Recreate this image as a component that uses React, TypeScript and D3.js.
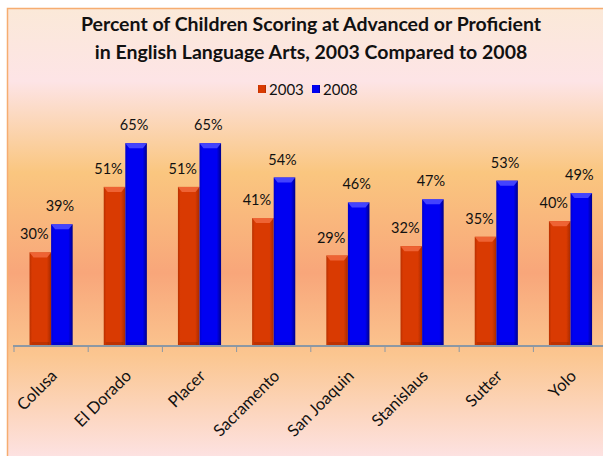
import { useEffect, useRef } from "react";
import * as d3 from "d3";

const counties = ["Colusa", "El Dorado", "Placer", "Sacramento", "San Joaquin", "Stanislaus", "Sutter", "Yolo"];
const years = ["2003", "2008"];
const values2003 = [30, 51, 51, 41, 29, 32, 35, 40];
const values2008 = [39, 65, 65, 54, 46, 47, 53, 49];
const titleLines = [
  "Percent of Children Scoring at Advanced or Proficient",
  "in English Language Arts, 2003 Compared to 2008",
];

const W = 603, H = 456;
const FONT = "Lato, 'Open Sans', sans-serif";

function App() {
  const ref = useRef<SVGSVGElement>(null);

  useEffect(() => {
    const svg = d3.select(ref.current);
    svg.selectAll("*").remove();

    const defs = svg.append("defs");
    // background gradient
    const bg = defs.append("linearGradient").attr("id", "bg")
      .attr("x1", 0).attr("y1", 0).attr("x2", 0).attr("y2", 1);
    [[0, "#fbe9d8"], [0.16, "#fde4e6"], [0.36, "#fac67f"], [0.58, "#f8a67a"], [0.76, "#fbc690"], [1, "#fde4e8"]]
      .forEach(([o, c]) => bg.append("stop").attr("offset", o as number).attr("stop-color", c as string));

    const barGrad = (id: string, stops: string[]) => {
      const g = defs.append("linearGradient").attr("id", id)
        .attr("x1", 0).attr("y1", 0).attr("x2", 1).attr("y2", 0);
      g.append("stop").attr("offset", 0).attr("stop-color", stops[0]);
      g.append("stop").attr("offset", 0.12).attr("stop-color", stops[1]);
      g.append("stop").attr("offset", 0.8).attr("stop-color", stops[1]);
      g.append("stop").attr("offset", 1).attr("stop-color", stops[2]);
    };
    barGrad("g2003", ["#b83000", "#d93a02", "#a82a00"]);
    barGrad("g2008", ["#0000c8", "#0000f2", "#00008a"]);

    svg.append("rect").attr("x", 7.5).attr("y", 8.5).attr("width", W).attr("height", H)
      .attr("fill", "url(#bg)").attr("stroke", "#f6ad70").attr("stroke-width", 1.5);

    // title
    svg.append("g").selectAll("text").data(titleLines).join("text")
      .attr("x", 311).attr("y", (_, i) => 31 + i * 28)
      .attr("text-anchor", "middle")
      .attr("font-family", FONT).attr("font-weight", "bold").attr("font-size", 19.5)
      .attr("fill", "#111").text(d => d);

    // legend
    const legend = svg.append("g").attr("transform", "translate(258,90)");
    years.forEach((yr, i) => {
      const g = legend.append("g").attr("transform", `translate(${i * 54},0)`);
      g.append("rect").attr("x", 0).attr("y", -5).attr("width", 8).attr("height", 8)
        .attr("fill", `url(#g${yr})`);
      g.append("text").attr("x", 11).attr("y", 0).attr("dy", "0.35em")
        .attr("font-family", FONT).attr("font-size", 15).attr("fill", "#111").text(yr);
    });

    const x0 = d3.scaleBand().domain(counties).range([14, 14 + 74.2 * counties.length]).padding(0);
    const x1 = d3.scaleBand().domain(years).range([0, x0.bandwidth()]).paddingInner(0).paddingOuter(0.72);
    const y = d3.scaleLinear().domain([0, 100]).range([346, 34]);

    const data = counties.map((c, i) => ({ county: c, vals: [values2003[i], values2008[i]] }));

    const groups = svg.append("g").selectAll("g").data(data).join("g")
      .attr("transform", d => `translate(${x0(d.county)},0)`);

    years.forEach((yr, si) => {
      const bx = x1(yr)!;
      const bw = x1.bandwidth();
      const hi = si === 0 ? "#f0683a" : "#4a4aff";
      groups.append("rect")
        .attr("x", bx).attr("width", bw)
        .attr("y", d => y(d.vals[si])).attr("height", d => y(0) - y(d.vals[si]))
        .attr("fill", `url(#g${yr})`);
      // top bevel
      groups.append("path")
        .attr("d", d => {
          const t = y(d.vals[si]);
          return `M${bx},${t}L${bx + bw},${t}L${bx + bw - 4},${t + 5}L${bx + 4},${t + 5}Z`;
        })
        .attr("fill", hi).attr("opacity", 0.9);
      // bottom shade
      groups.append("rect")
        .attr("x", bx + 2).attr("width", bw - 4)
        .attr("y", y(0) - 4).attr("height", 4)
        .attr("fill", "#000").attr("opacity", 0.12);
      groups.append("text")
        .attr("x", bx + bw / 2 + (si === 0 ? -6 : -2))
        .attr("y", d => y(d.vals[si]) - 13)
        .attr("text-anchor", "middle")
        .attr("font-family", FONT).attr("font-size", 14.5).attr("fill", "#111")
        .text(d => `${d.vals[si]}%`);
    });

    // axis
    const axis = svg.append("g").attr("transform", `translate(0,${y(0)})`);
    axis.append("line").attr("x1", 13).attr("x2", W).attr("y1", 0).attr("y2", 0)
      .attr("stroke", "#8c98a4").attr("stroke-width", 2);
    const tickXs = counties.map(c => x0(c)!).concat([x0.range()[1]]);
    axis.selectAll("line.tick").data(tickXs).join("line").attr("class", "tick")
      .attr("x1", d => d).attr("x2", d => d).attr("y1", 0).attr("y2", 6)
      .attr("stroke", "#8c98a4").attr("stroke-width", 1);

    svg.append("g").selectAll("text").data(counties).join("text")
      .attr("transform", d => `translate(${x0(d)! + x0.bandwidth() / 2 + 7},${y(0) + 31}) rotate(-45)`)
      .attr("text-anchor", "end")
      .attr("font-family", FONT).attr("font-size", 16.5).attr("fill", "#111")
      .text(d => d);
  }, []);

  return (
    <svg ref={ref} width={W} height={H}
      style={{ position: "absolute", left: 0, top: 0, background: "#fff" }} />
  );
}

export default App;
